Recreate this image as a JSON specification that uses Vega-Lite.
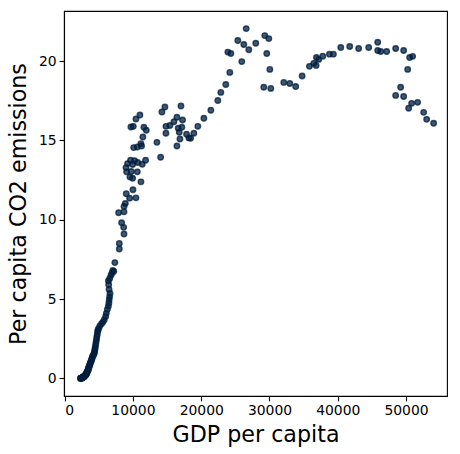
{
  "$schema": "https://vega.github.io/schema/vega-lite/v6.json",
  "width": 383,
  "height": 385,
  "autosize": "none",
  "padding": {"left": 64, "top": 11, "right": 13, "bottom": 58},
  "background": "white",
  "config": {
    "view": {"stroke": "black", "strokeWidth": 1.1},
    "font": "DejaVu Sans",
    "axis": {
      "grid": false,
      "domainColor": "black",
      "domainWidth": 1.1,
      "tickColor": "black",
      "tickWidth": 1.1,
      "tickSize": 4.9,
      "labelPadding": 3,
      "labelFont": "DejaVu Sans",
      "labelFontSize": 13.9,
      "labelColor": "black",
      "titleFont": "DejaVu Sans",
      "titleFontSize": 22.2,
      "titleFontWeight": "normal",
      "titleColor": "black"
    }
  },
  "data": {
    "values": [
      {"gdp": 2300, "co2": 0.00}, {"gdp": 2350, "co2": 0.01}, {"gdp": 2400, "co2": 0.01}, {"gdp": 2450, "co2": 0.02},
      {"gdp": 2480, "co2": 0.02}, {"gdp": 2520, "co2": 0.03}, {"gdp": 2550, "co2": 0.03}, {"gdp": 2600, "co2": 0.04},
      {"gdp": 2620, "co2": 0.05}, {"gdp": 2650, "co2": 0.06}, {"gdp": 2700, "co2": 0.07}, {"gdp": 2720, "co2": 0.08},
      {"gdp": 2780, "co2": 0.09}, {"gdp": 2820, "co2": 0.10}, {"gdp": 2880, "co2": 0.12}, {"gdp": 2860, "co2": 0.14},
      {"gdp": 2920, "co2": 0.16}, {"gdp": 2980, "co2": 0.18}, {"gdp": 3020, "co2": 0.20}, {"gdp": 3080, "co2": 0.22},
      {"gdp": 3120, "co2": 0.25}, {"gdp": 3180, "co2": 0.28}, {"gdp": 3220, "co2": 0.31}, {"gdp": 3200, "co2": 0.35},
      {"gdp": 3280, "co2": 0.39}, {"gdp": 3330, "co2": 0.43}, {"gdp": 3380, "co2": 0.48}, {"gdp": 3420, "co2": 0.52},
      {"gdp": 3480, "co2": 0.57}, {"gdp": 3460, "co2": 0.62}, {"gdp": 3530, "co2": 0.68}, {"gdp": 3580, "co2": 0.74},
      {"gdp": 3630, "co2": 0.80}, {"gdp": 3680, "co2": 0.87}, {"gdp": 3730, "co2": 0.93}, {"gdp": 3780, "co2": 1.00},
      {"gdp": 3870, "co2": 1.08}, {"gdp": 3920, "co2": 1.15}, {"gdp": 3980, "co2": 1.22}, {"gdp": 4030, "co2": 1.30},
      {"gdp": 4080, "co2": 1.38}, {"gdp": 4180, "co2": 1.45}, {"gdp": 4280, "co2": 1.52}, {"gdp": 4330, "co2": 1.60},
      {"gdp": 4380, "co2": 1.70}, {"gdp": 4420, "co2": 1.80}, {"gdp": 4460, "co2": 1.92}, {"gdp": 4520, "co2": 2.05},
      {"gdp": 4560, "co2": 2.20}, {"gdp": 4620, "co2": 2.35}, {"gdp": 4680, "co2": 2.50}, {"gdp": 4720, "co2": 2.65},
      {"gdp": 4780, "co2": 2.80}, {"gdp": 4830, "co2": 2.95}, {"gdp": 4880, "co2": 3.05}, {"gdp": 4980, "co2": 3.15},
      {"gdp": 5150, "co2": 3.30}, {"gdp": 5400, "co2": 3.45}, {"gdp": 5600, "co2": 3.55}, {"gdp": 5800, "co2": 3.70},
      {"gdp": 6000, "co2": 3.90}, {"gdp": 6100, "co2": 4.10}, {"gdp": 6250, "co2": 4.35}, {"gdp": 6400, "co2": 4.55},
      {"gdp": 6480, "co2": 4.75}, {"gdp": 6520, "co2": 4.95}, {"gdp": 6580, "co2": 5.15}, {"gdp": 6640, "co2": 5.35},
      {"gdp": 6500, "co2": 5.60}, {"gdp": 6450, "co2": 5.90}, {"gdp": 6400, "co2": 6.15}, {"gdp": 6600, "co2": 6.30},
      {"gdp": 6780, "co2": 6.50}, {"gdp": 6950, "co2": 6.65}, {"gdp": 7200, "co2": 6.75}, {"gdp": 7050, "co2": 6.80},
      {"gdp": 7350, "co2": 7.30},
      {"gdp": 14680, "co2": 17.11}, {"gdp": 17030, "co2": 17.17}, {"gdp": 14240, "co2": 16.79}, {"gdp": 11020, "co2": 16.60},
      {"gdp": 10440, "co2": 16.35}, {"gdp": 10050, "co2": 15.89}, {"gdp": 9700, "co2": 15.85}, {"gdp": 11600, "co2": 15.83},
      {"gdp": 11950, "co2": 15.64}, {"gdp": 11450, "co2": 15.22}, {"gdp": 16440, "co2": 16.46}, {"gdp": 16000, "co2": 16.18},
      {"gdp": 17260, "co2": 16.29}, {"gdp": 14830, "co2": 15.89}, {"gdp": 15410, "co2": 15.94}, {"gdp": 14830, "co2": 15.45},
      {"gdp": 16630, "co2": 15.77}, {"gdp": 17160, "co2": 15.83}, {"gdp": 16780, "co2": 15.52}, {"gdp": 17850, "co2": 15.39},
      {"gdp": 18190, "co2": 15.16}, {"gdp": 16880, "co2": 15.09}, {"gdp": 16440, "co2": 14.65}, {"gdp": 13510, "co2": 14.88},
      {"gdp": 14050, "co2": 13.94}, {"gdp": 11160, "co2": 14.80}, {"gdp": 10640, "co2": 14.59}, {"gdp": 10100, "co2": 14.55},
      {"gdp": 11260, "co2": 14.65}, {"gdp": 10240, "co2": 13.73}, {"gdp": 11850, "co2": 13.75}, {"gdp": 11360, "co2": 13.50},
      {"gdp": 9650, "co2": 13.75}, {"gdp": 9210, "co2": 13.54}, {"gdp": 8980, "co2": 13.29}, {"gdp": 9950, "co2": 13.48},
      {"gdp": 10690, "co2": 13.61}, {"gdp": 9070, "co2": 13.02}, {"gdp": 9750, "co2": 13.04}, {"gdp": 10640, "co2": 13.02},
      {"gdp": 9560, "co2": 12.70}, {"gdp": 9950, "co2": 12.62}, {"gdp": 11170, "co2": 12.39}, {"gdp": 10000, "co2": 11.89},
      {"gdp": 9020, "co2": 11.64}, {"gdp": 9510, "co2": 11.36}, {"gdp": 10440, "co2": 11.38}, {"gdp": 8880, "co2": 11.03},
      {"gdp": 8690, "co2": 10.84}, {"gdp": 7900, "co2": 10.44}, {"gdp": 8690, "co2": 10.50}, {"gdp": 8340, "co2": 9.81},
      {"gdp": 8640, "co2": 9.52}, {"gdp": 8690, "co2": 9.10}, {"gdp": 8000, "co2": 8.51}, {"gdp": 8000, "co2": 8.16},
      {"gdp": 18440, "co2": 15.14}, {"gdp": 18920, "co2": 15.45}, {"gdp": 19500, "co2": 15.89}, {"gdp": 20390, "co2": 16.40},
      {"gdp": 21410, "co2": 16.90}, {"gdp": 22430, "co2": 17.52}, {"gdp": 22870, "co2": 18.03}, {"gdp": 23600, "co2": 18.53},
      {"gdp": 24190, "co2": 19.29}, {"gdp": 25940, "co2": 19.97}, {"gdp": 23900, "co2": 20.57}, {"gdp": 24340, "co2": 20.48},
      {"gdp": 25360, "co2": 21.30}, {"gdp": 26240, "co2": 21.05}, {"gdp": 26590, "co2": 22.05}, {"gdp": 26970, "co2": 20.72},
      {"gdp": 27990, "co2": 21.13}, {"gdp": 29310, "co2": 21.61}, {"gdp": 29900, "co2": 21.42}, {"gdp": 29600, "co2": 20.48},
      {"gdp": 30050, "co2": 19.48}, {"gdp": 29160, "co2": 18.35}, {"gdp": 30190, "co2": 18.28}, {"gdp": 32090, "co2": 18.66},
      {"gdp": 32970, "co2": 18.59}, {"gdp": 33840, "co2": 18.40},
      {"gdp": 34780, "co2": 19.06}, {"gdp": 35850, "co2": 19.67}, {"gdp": 36480, "co2": 19.86}, {"gdp": 36830, "co2": 19.73},
      {"gdp": 36880, "co2": 20.23}, {"gdp": 37210, "co2": 20.11}, {"gdp": 37800, "co2": 20.31}, {"gdp": 38780, "co2": 20.44},
      {"gdp": 39360, "co2": 20.44}, {"gdp": 40440, "co2": 20.86}, {"gdp": 41750, "co2": 20.92}, {"gdp": 43060, "co2": 20.80},
      {"gdp": 44530, "co2": 20.86}, {"gdp": 45850, "co2": 21.19}, {"gdp": 45850, "co2": 20.67}, {"gdp": 46290, "co2": 20.61},
      {"gdp": 47160, "co2": 20.61}, {"gdp": 48480, "co2": 20.80}, {"gdp": 49650, "co2": 20.67}, {"gdp": 50530, "co2": 20.23},
      {"gdp": 50970, "co2": 20.30}, {"gdp": 50240, "co2": 19.48}, {"gdp": 49210, "co2": 18.35}, {"gdp": 48480, "co2": 17.84},
      {"gdp": 49650, "co2": 17.77}, {"gdp": 50820, "co2": 17.34}, {"gdp": 51700, "co2": 17.40}, {"gdp": 50380, "co2": 17.03},
      {"gdp": 52580, "co2": 16.77}, {"gdp": 53020, "co2": 16.33}, {"gdp": 54040, "co2": 16.08}
    ]
  },
  "mark": {
    "type": "circle",
    "size": 30,
    "fill": "#001f3f",
    "fillOpacity": 0.75,
    "stroke": "#001f3f",
    "strokeOpacity": 0.75,
    "strokeWidth": 1.4
  },
  "encoding": {
    "x": {
      "field": "gdp",
      "type": "quantitative",
      "title": "GDP per capita",
      "scale": {"domain": [-100, 56000], "nice": false, "zero": false},
      "axis": {"values": [0, 10000, 20000, 30000, 40000, 50000], "format": "d", "titlePadding": 6}
    },
    "y": {
      "field": "co2",
      "type": "quantitative",
      "title": "Per capita CO2 emissions",
      "scale": {"domain": [-1.11, 23.16], "nice": false, "zero": false},
      "axis": {"values": [0, 5, 10, 15, 20], "format": "d", "titlePadding": 8}
    }
  }
}
